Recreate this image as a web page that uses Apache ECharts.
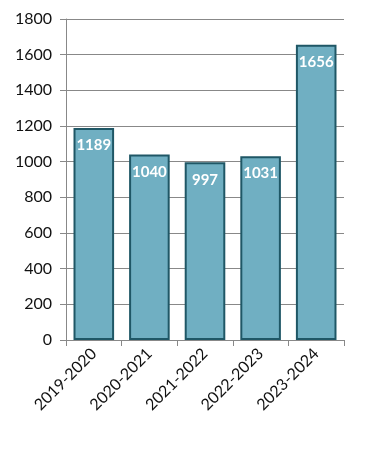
<!DOCTYPE html>
<html><head><meta charset="utf-8">
<script src="https://cdn.jsdelivr.net/npm/echarts@6/dist/echarts.min.js"></script>
<style>html,body{margin:0;padding:0;background:#fff}#c{width:391px;height:452px}</style>
</head><body><div id="c"></div>
<script>
var categories = ["2019-2020","2020-2021","2021-2022","2022-2023","2023-2024"];
var values = [1189, 1040, 997, 1031, 1656];
var yMin = 0, yMax = 1800, yStep = 200;

var chart = echarts.init(document.getElementById('c'));
chart.setOption({
  animation: false,
  grid: {left: 66, right: 47, top: 19, bottom: 112},
  xAxis: {
    type: 'category', data: categories,
    axisLine: {lineStyle: {color: '#888', width: 1}},
    axisTick: {show: true, length: 6, lineStyle: {color: '#888'}},
    axisLabel: {rotate: 45, margin: 11, color: '#111', fontSize: 16, fontFamily: 'Lato'}
  },
  yAxis: {
    type: 'value', min: yMin, max: yMax, interval: yStep,
    axisLine: {show: true, lineStyle: {color: '#888', width: 1}},
    axisTick: {show: true, length: 6, lineStyle: {color: '#888'}},
    splitLine: {lineStyle: {color: '#888', width: 1}},
    axisLabel: {margin: 14, color: '#111', fontSize: 16, fontFamily: 'Lato',
                formatter: function (v) { return String(v); }}
  },
  series: [{
    type: 'bar', data: values, barWidth: '73%',
    itemStyle: {color: '#70AFC2', borderColor: '#1F5766', borderWidth: 2},
    label: {show: true, position: 'insideTop', distance: 10, color: '#fff',
            fontWeight: 'bold', fontSize: 15, fontFamily: 'Lato'}
  }]
});
</script></body></html>
